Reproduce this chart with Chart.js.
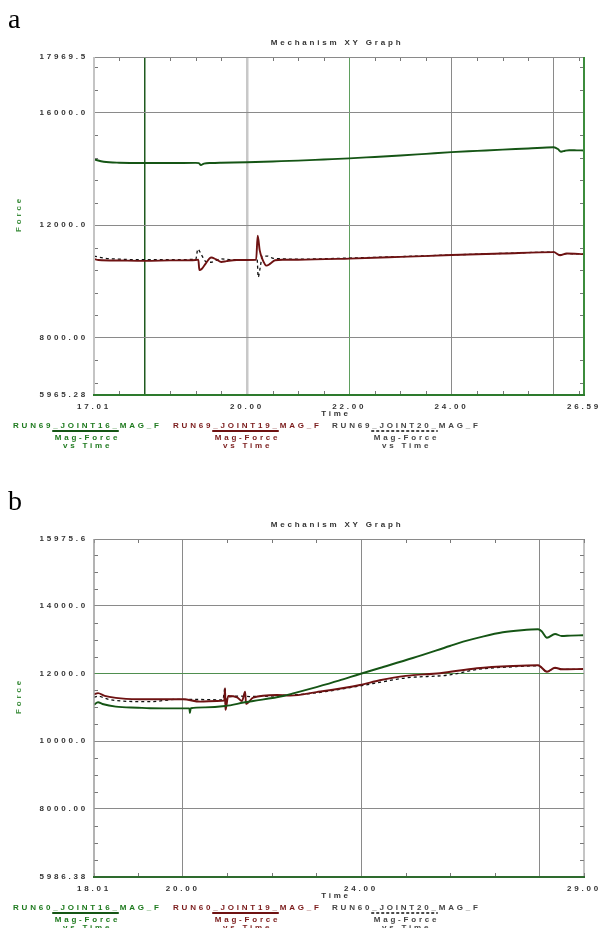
<!DOCTYPE html>
<html><head><meta charset="utf-8">
<script src="https://cdn.jsdelivr.net/npm/chart.js@4"></script>
<style>
html,body{margin:0;padding:0;background:#fff;overflow:hidden;width:605px;height:928px}
.wrap{position:absolute;left:0;width:605px;height:482px}
#wa{top:0}#wb{top:482px}
canvas{display:block}
</style></head><body>
<div class="wrap" id="wa"><canvas id="ca" width="605" height="482"></canvas></div>
<div class="wrap" id="wb"><canvas id="cb" width="605" height="482"></canvas></div>
<script>
// ---------- Panel a data ----------
const tA16 = [17.01,17.2,17.5,18.0,18.5,19.0,19.06,19.1,19.16,19.3,19.5,20.0,20.5,21.0,21.5,22.0,22.5,23.0,23.5,24.0,24.5,25.0,25.5,26.0,26.08,26.14,26.22,26.3,26.45,26.59];
const vA16 = [14330,14250,14215,14205,14205,14210,14200,14130,14185,14205,14215,14230,14260,14290,14330,14370,14420,14470,14530,14590,14635,14680,14720,14765,14700,14605,14640,14660,14655,14650];
const tA19 = [17.01,17.1,17.5,18.0,18.5,19.0,19.05,19.07,19.12,19.2,19.3,19.4,19.5,19.6,19.8,20.0,20.18,20.21,20.25,20.3,20.38,20.45,20.55,20.7,21.0,22.0,23.0,24.0,25.0,26.0,26.12,26.25,26.59];
const vA19 = [10800,10760,10740,10730,10745,10760,10770,10400,10450,10650,10850,10780,10690,10720,10760,10760,10765,11620,11100,10800,10560,10620,10750,10770,10770,10810,10870,10935,10990,11040,10930,10990,10970];
const tA20 = [17.01,17.2,17.5,18.0,19.0,19.04,19.1,19.2,19.3,19.4,19.5,19.7,20.0,20.2,20.22,20.26,20.3,20.4,20.5,20.7,21.0,22.0,23.0,24.0,25.0,26.0,26.12,26.25,26.59];
const vA20 = [10900,10830,10790,10770,10780,11150,10980,10700,10680,10750,10800,10770,10770,10775,10150,10500,10900,10900,10830,10800,10790,10830,10880,10940,10995,11040,10940,10985,10970];
const xMinA = 17.01, xMaxA = 26.59, yMinA = 5965.28, yMaxA = 17969.5;
const xLabelValsA = [17.01,20,22,24,26.59];
const xLabelTextA = ['17.01','20.00','22.00','24.00','26.59'];
const xGridA = [18,20,22,24,26];
const yLabelValsA = [5965.28,8000,12000,16000,17969.5];
const yLabelTextA = ['5965.28','8000.00','12000.0','16000.0','17969.5'];
const yGridA = [8000,12000,16000];
const namesA = ['RUN69_JOINT16_MAG_F','RUN69_JOINT19_MAG_F','RUN69_JOINT20_MAG_F'];

// ---------- Panel b data ----------
const tB16 = [18.01,18.1,18.2,18.5,19.0,19.27,20.0,20.15,20.16,20.18,20.5,20.95,21.4,21.58,22.25,22.5,23.0,23.5,23.975,24.42,25.16,25.99,26.29,26.75,27.18,27.6,27.97,28.05,28.17,28.35,28.5,28.7,28.98];
const vB16 = [11080,11150,11100,11020,10990,10975,10970,10970,10830,10975,11000,11040,11150,11188,11336,11420,11600,11790,11986,12163,12459,12814,12941,13100,13218,13280,13307,13250,13059,13168,13109,13120,13129];
const tB19 = [18.01,18.1,18.25,18.5,19.0,19.27,20.01,20.39,20.77,20.93,20.95,20.96,21.02,21.22,21.33,21.40,21.42,21.58,22.11,22.41,23.0,23.975,24.42,25.0,25.77,26.6,27.41,27.97,28.17,28.35,28.5,28.98];
const vB19 = [11380,11420,11340,11280,11240,11238,11238,11169,11188,11200,11564,10923,11336,11297,11188,11464,11100,11287,11366,11346,11450,11661,11800,11930,12010,12155,12222,12243,12054,12172,12125,12134];
const tB20 = [18.01,18.1,18.3,18.5,19.27,19.9,20.5,20.9,20.95,20.96,21.0,21.3,21.5,22.1,23.0,23.975,24.5,25.0,25.99,26.6,27.41,27.97,28.17,28.35,28.5,28.98];
const vB20 = [11300,11330,11250,11200,11169,11238,11230,11220,11593,10923,11300,11330,11320,11340,11430,11632,11760,11870,11960,12120,12200,12230,12060,12160,12120,12120];
const xMinB = 18.01, xMaxB = 29.0, yMinB = 5986.38, yMaxB = 15975.6;
const xLabelValsB = [18.01,20,24,29];
const xLabelTextB = ['18.01','20.00','24.00','29.00'];
const xGridB = [20,24,28];
const yLabelValsB = [5986.38,8000,10000,12000,14000,15975.6];
const yLabelTextB = ['5986.38','8000.00','10000.0','12000.0','14000.0','15975.6'];
const yGridB = [8000,10000,12000,14000];
const namesB = ['RUN60_JOINT16_MAG_F','RUN60_JOINT19_MAG_F','RUN60_JOINT20_MAG_F'];

const FONT = 'Liberation Sans, Arial, sans-serif';
const SP = '2.8px';
const near = (a,b)=>Math.abs(a-b)<1e-6;

function pts(t,v){return t.map((x,i)=>({x:x,y:v[i]}));}
function range(a,b,s){const r=[];for(let v=a;v<=b+1e-9;v+=s)r.push(Math.round(v*1000)/1000);return r;}

function makePanel(id, P){
  const xTicks = [P.xMin].concat(range(P.xStart,P.xEnd,P.xStep)).concat([P.xMax]);
  const yTicks = [P.yMin].concat(range(P.yStart,P.yEnd,P.yStep)).concat([P.yMax]);
  const deco = {
    id:'deco'+id,
    beforeDraw(c){c.ctx.letterSpacing = SP;},
    afterDraw(c){
      const ctx=c.ctx, a=c.chartArea, xs=c.scales.x, ys=c.scales.y;
      ctx.save();
      ctx.letterSpacing = SP;
      // minor inward ticks
      ctx.strokeStyle='#777'; ctx.lineWidth=1;
      xs.ticks.forEach(t=>{
        if (P.xGrid.some(g=>near(g,t.value))) return;
        const px=Math.round(xs.getPixelForValue(t.value))+0.5;
        ctx.beginPath();ctx.moveTo(px,a.top);ctx.lineTo(px,a.top+4);ctx.moveTo(px,a.bottom);ctx.lineTo(px,a.bottom-4);ctx.stroke();
      });
      ys.ticks.forEach(t=>{
        if (P.yGrid.some(g=>near(g,t.value))) return;
        const py=Math.round(ys.getPixelForValue(t.value))+0.5;
        ctx.beginPath();ctx.moveTo(a.left,py);ctx.lineTo(a.left+4,py);ctx.moveTo(a.right,py);ctx.lineTo(a.right-4,py);ctx.stroke();
      });
      // frame
      const fr=P.frame;
      ctx.lineWidth=fr.topW;ctx.strokeStyle=fr.top;ctx.beginPath();ctx.moveTo(a.left,a.top+0.5);ctx.lineTo(a.right,a.top+0.5);ctx.stroke();
      ctx.lineWidth=fr.leftW;ctx.strokeStyle=fr.left;ctx.beginPath();ctx.moveTo(a.left,a.top);ctx.lineTo(a.left,a.bottom);ctx.stroke();
      ctx.lineWidth=fr.rightW;ctx.strokeStyle=fr.right;ctx.beginPath();ctx.moveTo(a.right,a.top);ctx.lineTo(a.right,a.bottom);ctx.stroke();
      ctx.lineWidth=fr.bottomW;ctx.strokeStyle=fr.bottom;ctx.beginPath();ctx.moveTo(a.left-1,a.bottom);ctx.lineTo(a.right+1,a.bottom);ctx.stroke();
      // panel letter
      ctx.letterSpacing='0px';
      ctx.fillStyle='#000';ctx.font='28px "Liberation Serif", serif';ctx.textAlign='left';ctx.textBaseline='alphabetic';
      ctx.fillText(P.letter,8,28);
      ctx.letterSpacing=SP;
      // title
      ctx.font='bold 8px '+FONT;ctx.textBaseline='middle';ctx.textAlign='center';ctx.fillStyle='#333';
      ctx.fillText('Mechanism XY Graph',(a.left+a.right)/2-2,43);
      // axis titles
      ctx.fillText('Time',(a.left+a.right)/2-3,414);
      ctx.save();ctx.translate(19,214);ctx.rotate(-Math.PI/2);ctx.fillStyle='#3f8f3f';ctx.fillText('Force',0,0);ctx.restore();
      // legend
      const lx=[13,173,332], cols=['#1e7a1e','#7a1a1a','#444444'];
      P.names.forEach((n,i)=>{
        ctx.textAlign='left';ctx.fillStyle=cols[i];
        ctx.fillText(n,lx[i],426);
        const pre=n.split('_')[0];
        const x1=lx[i]+ctx.measureText(pre).width-1;
        const x2=lx[i]+ctx.measureText(n.slice(0,n.indexOf('_MAG')+1)).width-1;
        ctx.strokeStyle=c.data.datasets[i].borderColor;ctx.lineWidth=i==2?1.5:2;
        ctx.setLineDash(i==2?[3,2]:[]);
        ctx.beginPath();ctx.moveTo(x1,431);ctx.lineTo(x2,431);ctx.stroke();ctx.setLineDash([]);
        ctx.textAlign='center';
        ctx.fillText('Mag-Force',(x1+x2)/2+2,438);
        ctx.fillText('vs Time',(x1+x2)/2+2,446);
      });
      ctx.restore();
    }
  };
  return new Chart(document.getElementById(id),{
    type:'line',
    data:{datasets:[
      {data:pts(P.t16,P.v16),borderColor:'#155515',borderWidth:1.9},
      {data:pts(P.t19,P.v19),borderColor:'#6e1212',borderWidth:1.9},
      {data:pts(P.t20,P.v20),borderColor:'#111111',borderWidth:1.3,borderDash:[3,3]}
    ]},
    options:{
      responsive:false,animation:false,
      parsing:false,
      elements:{point:{radius:0},line:{cubicInterpolationMode:'monotone'}},
      layout:{padding:{left:0,top:57,right:21,bottom:0}},
      plugins:{legend:{display:false},tooltip:{enabled:false},title:{display:false}},
      scales:{
        x:{type:'linear',min:P.xMin,max:P.xMax,
          afterFit(s){s.height=87;},
          afterBuildTicks(s){s.ticks=xTicks.map(v=>({value:v}));},
          ticks:{autoSkip:false,maxRotation:0,minRotation:0,padding:7,color:'#333',font:{size:8,family:FONT,weight:'bold'},
            callback(v){const k=P.xLab.findIndex(q=>near(q,v));return k<0?'':P.xLabT[k];}},
          grid:{drawTicks:false,
            color(ctx){const v=ctx.tick&&ctx.tick.value;const k=P.xGrid.findIndex(g=>near(g,v));return k<0?'rgba(0,0,0,0)':P.xGridC[k];},
            lineWidth(ctx){const v=ctx.tick&&ctx.tick.value;const k=P.xGrid.findIndex(g=>near(g,v));return k<0?0:P.xGridW[k];}},
          border:{display:false}},
        y:{type:'linear',min:P.yMin,max:P.yMax,
          afterFit(s){s.width=94;},
          afterBuildTicks(s){s.ticks=yTicks.map(v=>({value:v}));},
          ticks:{autoSkip:false,padding:6,color:'#333',font:{size:8,family:FONT,weight:'bold'},
            callback(v){const k=P.yLab.findIndex(q=>near(q,v));return k<0?'':P.yLabT[k];}},
          grid:{drawTicks:false,
            color(ctx){const v=ctx.tick&&ctx.tick.value;const k=P.yGrid.findIndex(g=>near(g,v));return k<0?'rgba(0,0,0,0)':P.yGridC[k];},
            lineWidth(ctx){const v=ctx.tick&&ctx.tick.value;const k=P.yGrid.findIndex(g=>near(g,v));return k<0?0:1;}},
          border:{display:false}}
      }
    },
    plugins:[deco]
  });
}

makePanel('ca',{letter:'a',t16:tA16,v16:vA16,t19:tA19,v19:vA19,t20:tA20,v20:vA20,
  xMin:xMinA,xMax:xMaxA,yMin:yMinA,yMax:yMaxA,
  xStart:17.5,xEnd:26.5,xStep:0.5,yStart:6400,yEnd:17600,yStep:800,
  xLab:xLabelValsA,xLabT:xLabelTextA,yLab:yLabelValsA,yLabT:yLabelTextA,
  xGrid:xGridA,xGridC:['#1f5a1f','#c8c8c8','#5f9f5f','#8a8a8a','#8a8a8a'],xGridW:[1.5,2.5,1,1,1],
  yGrid:yGridA,yGridC:['#8a8a8a','#8a8a8a','#8a8a8a'],
  frame:{top:'#8a8a8a',topW:1,left:'#c4c4c4',leftW:2,right:'#3c8c3c',rightW:2,bottom:'#2d7a2d',bottomW:2},
  names:namesA});

makePanel('cb',{letter:'b',t16:tB16,v16:vB16,t19:tB19,v19:vB19,t20:tB20,v20:vB20,
  xMin:xMinB,xMax:xMaxB,yMin:yMinB,yMax:yMaxB,
  xStart:19,xEnd:28,xStep:1,yStart:6500,yEnd:15500,yStep:500,
  xLab:xLabelValsB,xLabT:xLabelTextB,yLab:yLabelValsB,yLabT:yLabelTextB,
  xGrid:xGridB,xGridC:['#8a8a8a','#8a8a8a','#8a8a8a'],xGridW:[1,1,1],
  yGrid:yGridB,yGridC:['#8a8a8a','#8a8a8a','#4f8f4f','#8a8a8a'],
  frame:{top:'#8a8a8a',topW:1,left:'#9a9a9a',leftW:1.5,right:'#8a8a8a',rightW:1,bottom:'#2e6b2e',bottomW:2},
  names:namesB});
</script>
</body></html>
